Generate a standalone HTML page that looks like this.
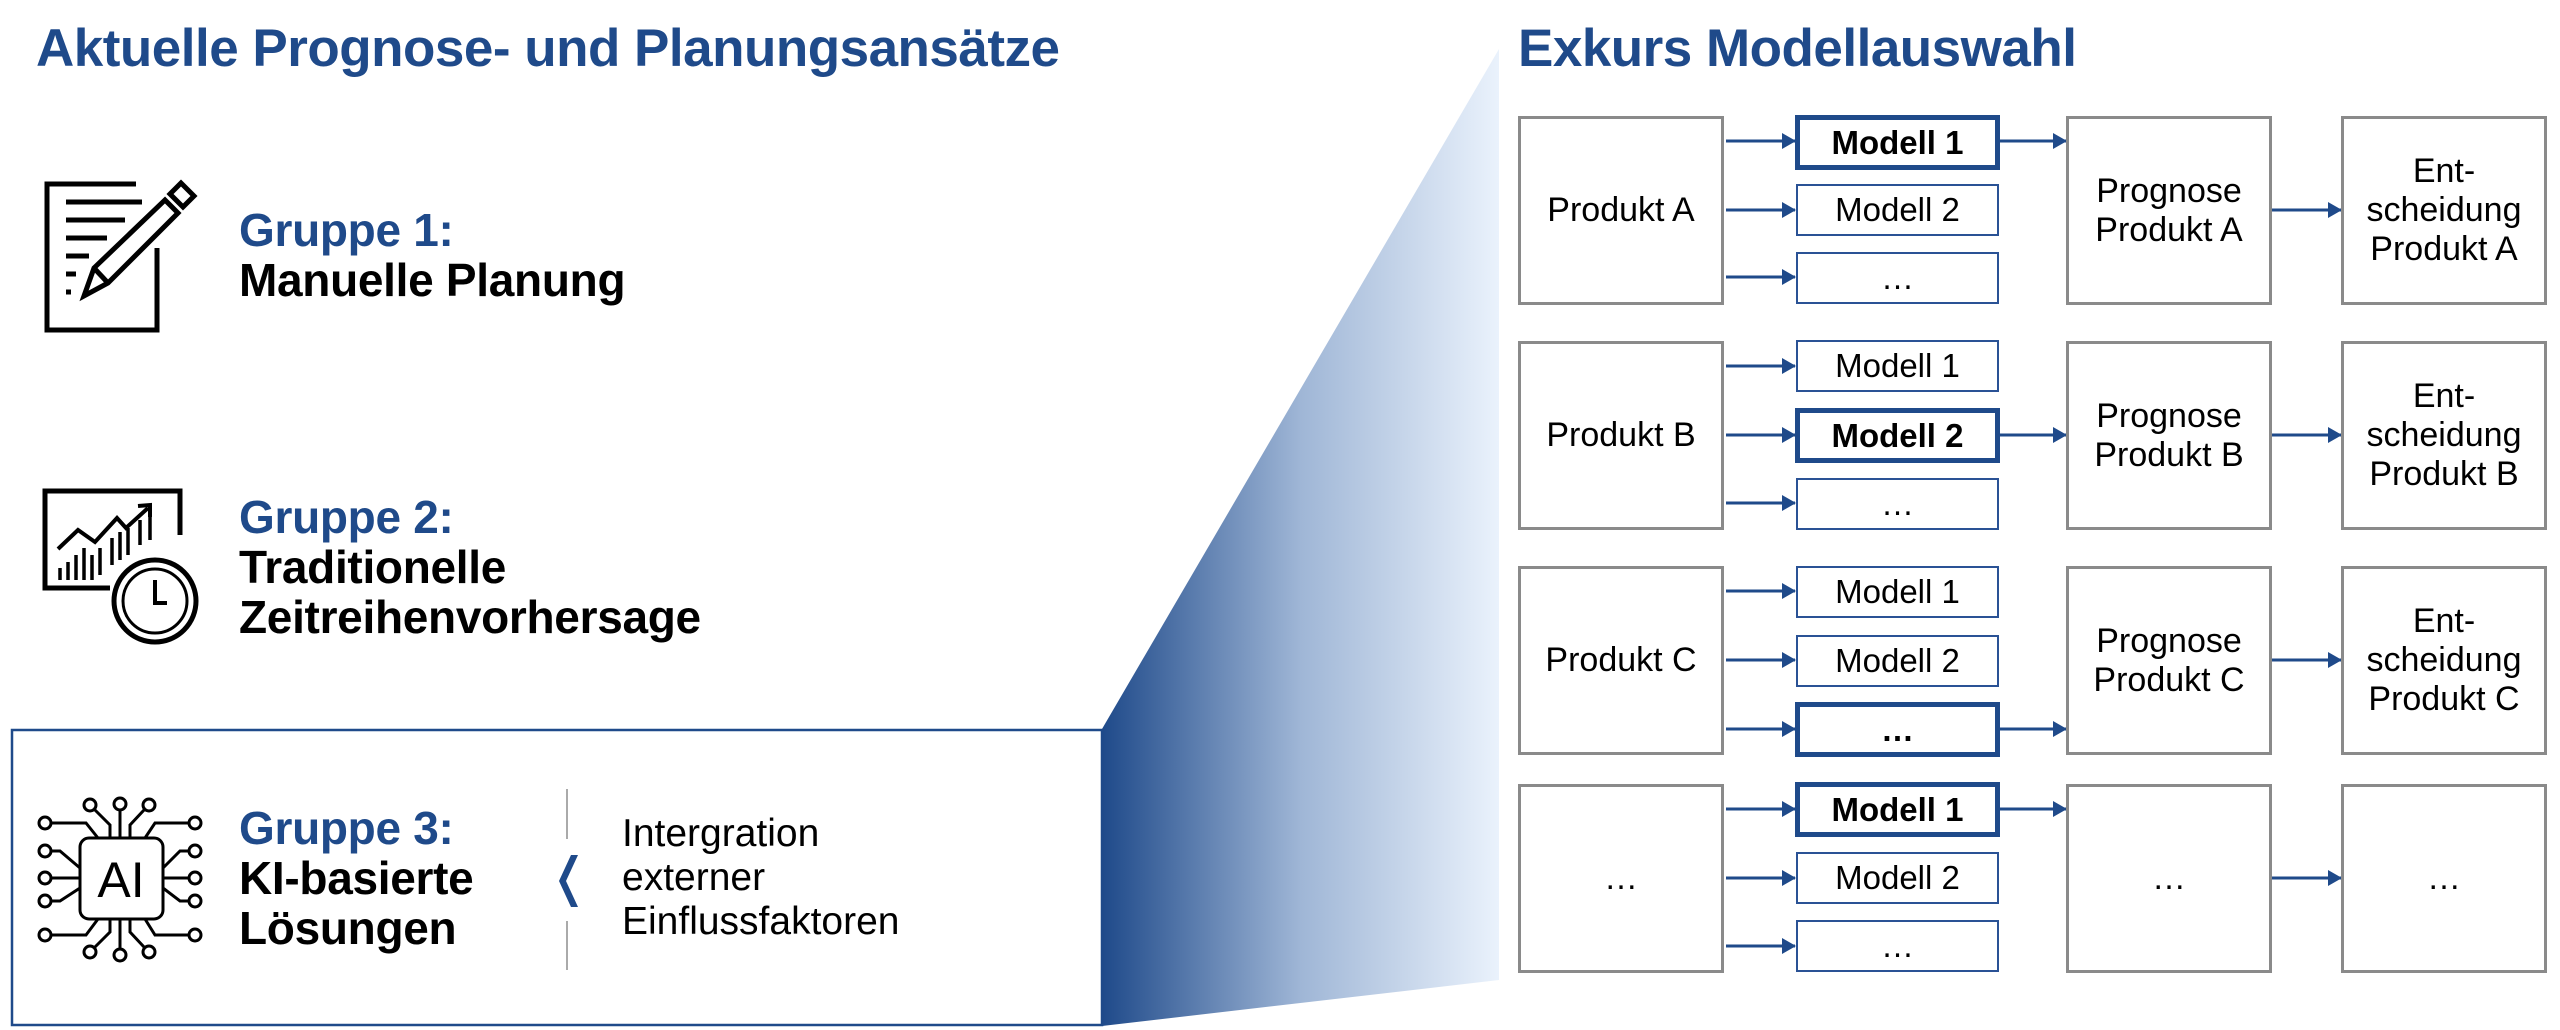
<!DOCTYPE html>
<html><head><meta charset="utf-8"><style>
body{margin:0;width:2560px;height:1030px;background:#fff;position:relative;overflow:hidden;font-family:"Liberation Sans",Arial,sans-serif}
.a{position:absolute;white-space:nowrap}
.t{font-weight:bold;color:#1f4a8a;font-size:53px;letter-spacing:-0.5px}
.g{font-weight:bold;font-size:46px;line-height:50px;letter-spacing:-0.3px}
.g b{color:#1f4a8a}
.box{position:absolute;box-sizing:border-box;border:3px solid #8a8a8a;display:flex;align-items:center;justify-content:center;text-align:center;font-size:34px;line-height:39px;color:#000;background:#fff}
.m{position:absolute;box-sizing:border-box;border:2px solid #2a5295;display:flex;align-items:center;justify-content:center;font-size:33px;background:#fff}
.m.s{border:5px solid #1f4a8a;font-weight:bold}
</style></head><body>
<svg class="a" style="left:0;top:0" width="2560" height="1030">
<defs><linearGradient id="gr" x1="0" x2="1" y1="0" y2="0"><stop offset="0" stop-color="#1f4a8a"/><stop offset="0.5" stop-color="#9fb6d6"/><stop offset="1" stop-color="#eaf2fc"/></linearGradient>
<marker id="ah" markerWidth="14" markerHeight="16" refX="13" refY="8" orient="auto" markerUnits="userSpaceOnUse"><path d="M0,0 L14,8 L0,16 z" fill="#1f4a8a"/></marker></defs>
<polygon points="1102,729 1499,49 1499,980 1102,1026" fill="url(#gr)"/>
<rect x="12" y="730" width="1090" height="295" fill="#fff" stroke="#1f4a8a" stroke-width="2.5"/>
<g fill="none" stroke="#000" stroke-width="5">
<polyline points="136,184 47,184 47,330 157,330 157,248"/>
<line x1="66" y1="202" x2="142" y2="202"/><line x1="66" y1="220" x2="125" y2="220"/><line x1="66" y1="238" x2="107" y2="238"/><line x1="66" y1="256" x2="89" y2="256"/><line x1="66" y1="274" x2="76" y2="274"/><line x1="66" y1="292" x2="71" y2="292"/>
<path d="M84,296 L94,268 L165,200 L178,213 L108,283 Z"/><path d="M170,194 L181,183 L194,196 L183,207 Z"/><line x1="94" y1="268" x2="108" y2="283"/>
</g>
<g fill="none" stroke="#000" stroke-width="5">
<polyline points="110,588 45,588 45,491 180,491 180,535"/>
<polyline points="58,549 78,530 95,542 117,518 126,528 148,508" stroke-width="4"/><polyline points="138,506 150,505 150,517" stroke-width="4"/>
<g stroke-width="3.5"><line x1="60" y1="568" x2="60" y2="580"/><line x1="68" y1="562" x2="68" y2="580"/><line x1="76" y1="555" x2="76" y2="580"/><line x1="84" y1="548" x2="84" y2="580"/><line x1="92" y1="555" x2="92" y2="580"/><line x1="100" y1="548" x2="100" y2="575"/><line x1="112" y1="538" x2="112" y2="565"/><line x1="120" y1="532" x2="120" y2="560"/><line x1="128" y1="528" x2="128" y2="555"/><line x1="140" y1="520" x2="140" y2="545"/><line x1="150" y1="513" x2="150" y2="540"/></g>
<circle cx="155" cy="601" r="41"/><circle cx="155" cy="601" r="32" stroke-width="3"/>
<polyline points="155,580 155,603 167,603" stroke-width="4"/>
</g>
<g fill="none" stroke="#000" stroke-width="3">
<rect x="80" y="838" width="83" height="81" rx="9"/>
<circle cx="90" cy="805" r="6"/><circle cx="120" cy="804" r="6"/><circle cx="149" cy="805" r="6"/>
<circle cx="90" cy="952" r="6"/><circle cx="120" cy="955" r="6"/><circle cx="149" cy="952" r="6"/>
<circle cx="45" cy="823" r="6"/><circle cx="45" cy="851" r="6"/><circle cx="45" cy="878" r="6"/><circle cx="45" cy="901" r="6"/><circle cx="45" cy="935" r="6"/>
<circle cx="195" cy="823" r="6"/><circle cx="195" cy="851" r="6"/><circle cx="195" cy="878" r="6"/><circle cx="195" cy="901" r="6"/><circle cx="195" cy="935" r="6"/>
<polyline points="95,810 110,825 110,838"/><line x1="120" y1="810" x2="120" y2="838"/><polyline points="144,810 130,825 130,838"/>
<polyline points="95,947 110,932 110,919"/><line x1="120" y1="949" x2="120" y2="919"/><polyline points="144,947 130,932 130,919"/>
<polyline points="51,823 86,823 98,838"/><polyline points="51,851 60,851 80,868"/><line x1="51" y1="878" x2="80" y2="878"/><polyline points="51,901 60,901 80,888"/><polyline points="51,935 86,935 98,919"/>
<polyline points="189,823 155,823 145,838"/><polyline points="189,851 180,851 163,868"/><line x1="189" y1="878" x2="163" y2="878"/><polyline points="189,901 180,901 163,888"/><polyline points="189,935 155,935 145,919"/>
</g>
<text x="121" y="897" font-family="Liberation Sans" font-size="50" text-anchor="middle" fill="#000">AI</text>
<line x1="567" y1="789" x2="567" y2="839" stroke="#aaa" stroke-width="2"/><line x1="567" y1="921" x2="567" y2="970" stroke="#aaa" stroke-width="2"/>
<path d="M578,855 L566,881 L578,907 L571,907 L559,881 L571,855 Z" fill="#1f4a8a"/>
<g stroke="#1f4a8a" stroke-width="3">
<line x1="1726" y1="141" x2="1795" y2="141" marker-end="url(#ah)"/><line x1="1726" y1="210" x2="1795" y2="210" marker-end="url(#ah)"/><line x1="1726" y1="277" x2="1795" y2="277" marker-end="url(#ah)"/>
<line x1="2000" y1="141" x2="2066" y2="141" marker-end="url(#ah)"/><line x1="2271" y1="210" x2="2341" y2="210" marker-end="url(#ah)"/>
<line x1="1726" y1="366" x2="1795" y2="366" marker-end="url(#ah)"/><line x1="1726" y1="435" x2="1795" y2="435" marker-end="url(#ah)"/><line x1="1726" y1="503" x2="1795" y2="503" marker-end="url(#ah)"/>
<line x1="2000" y1="435" x2="2066" y2="435" marker-end="url(#ah)"/><line x1="2271" y1="435" x2="2341" y2="435" marker-end="url(#ah)"/>
<line x1="1726" y1="591" x2="1795" y2="591" marker-end="url(#ah)"/><line x1="1726" y1="660" x2="1795" y2="660" marker-end="url(#ah)"/><line x1="1726" y1="729" x2="1795" y2="729" marker-end="url(#ah)"/>
<line x1="2000" y1="729" x2="2066" y2="729" marker-end="url(#ah)"/><line x1="2271" y1="660" x2="2341" y2="660" marker-end="url(#ah)"/>
<line x1="1726" y1="809" x2="1795" y2="809" marker-end="url(#ah)"/><line x1="1726" y1="878" x2="1795" y2="878" marker-end="url(#ah)"/><line x1="1726" y1="946" x2="1795" y2="946" marker-end="url(#ah)"/>
<line x1="2000" y1="809" x2="2066" y2="809" marker-end="url(#ah)"/><line x1="2271" y1="878" x2="2341" y2="878" marker-end="url(#ah)"/>
</g>
</svg>
<div class="a t" style="left:36px;top:18px">Aktuelle Prognose- und Planungsansätze</div>
<div class="a t" style="left:1518px;top:18px">Exkurs Modellauswahl</div>
<div class="a g" style="left:239px;top:205px"><b>Gruppe 1:</b><br>Manuelle Planung</div>
<div class="a g" style="left:239px;top:492px"><b>Gruppe 2:</b><br>Traditionelle<br>Zeitreihenvorhersage</div>
<div class="a g" style="left:239px;top:803px"><b>Gruppe 3:</b><br>KI-basierte<br>Lösungen</div>
<div class="a" style="left:622px;top:812px;font-size:39px;line-height:44px">Intergration<br>externer<br>Einflussfaktoren</div>

<div class="box" style="left:1518px;top:116px;width:206px;height:189px">Produkt A</div>
<div class="m s" style="left:1795px;top:115px;width:205px;height:55px">Modell 1</div>
<div class="m" style="left:1796px;top:184px;width:203px;height:52px">Modell 2</div>
<div class="m" style="left:1796px;top:252px;width:203px;height:52px">…</div>
<div class="box" style="left:2066px;top:116px;width:206px;height:189px">Prognose<br>Produkt A</div>
<div class="box" style="left:2341px;top:116px;width:206px;height:189px">Ent-<br>scheidung<br>Produkt A</div>

<div class="box" style="left:1518px;top:341px;width:206px;height:189px">Produkt B</div>
<div class="m" style="left:1796px;top:340px;width:203px;height:52px">Modell 1</div>
<div class="m s" style="left:1795px;top:408px;width:205px;height:55px">Modell 2</div>
<div class="m" style="left:1796px;top:478px;width:203px;height:52px">…</div>
<div class="box" style="left:2066px;top:341px;width:206px;height:189px">Prognose<br>Produkt B</div>
<div class="box" style="left:2341px;top:341px;width:206px;height:189px">Ent-<br>scheidung<br>Produkt B</div>

<div class="box" style="left:1518px;top:566px;width:206px;height:189px">Produkt C</div>
<div class="m" style="left:1796px;top:566px;width:203px;height:52px">Modell 1</div>
<div class="m" style="left:1796px;top:635px;width:203px;height:52px">Modell 2</div>
<div class="m s" style="left:1795px;top:702px;width:205px;height:55px">…</div>
<div class="box" style="left:2066px;top:566px;width:206px;height:189px">Prognose<br>Produkt C</div>
<div class="box" style="left:2341px;top:566px;width:206px;height:189px">Ent-<br>scheidung<br>Produkt C</div>

<div class="box" style="left:1518px;top:784px;width:206px;height:189px">…</div>
<div class="m s" style="left:1795px;top:782px;width:205px;height:55px">Modell 1</div>
<div class="m" style="left:1796px;top:852px;width:203px;height:52px">Modell 2</div>
<div class="m" style="left:1796px;top:920px;width:203px;height:52px">…</div>
<div class="box" style="left:2066px;top:784px;width:206px;height:189px">…</div>
<div class="box" style="left:2341px;top:784px;width:206px;height:189px">…</div>
</body></html>
